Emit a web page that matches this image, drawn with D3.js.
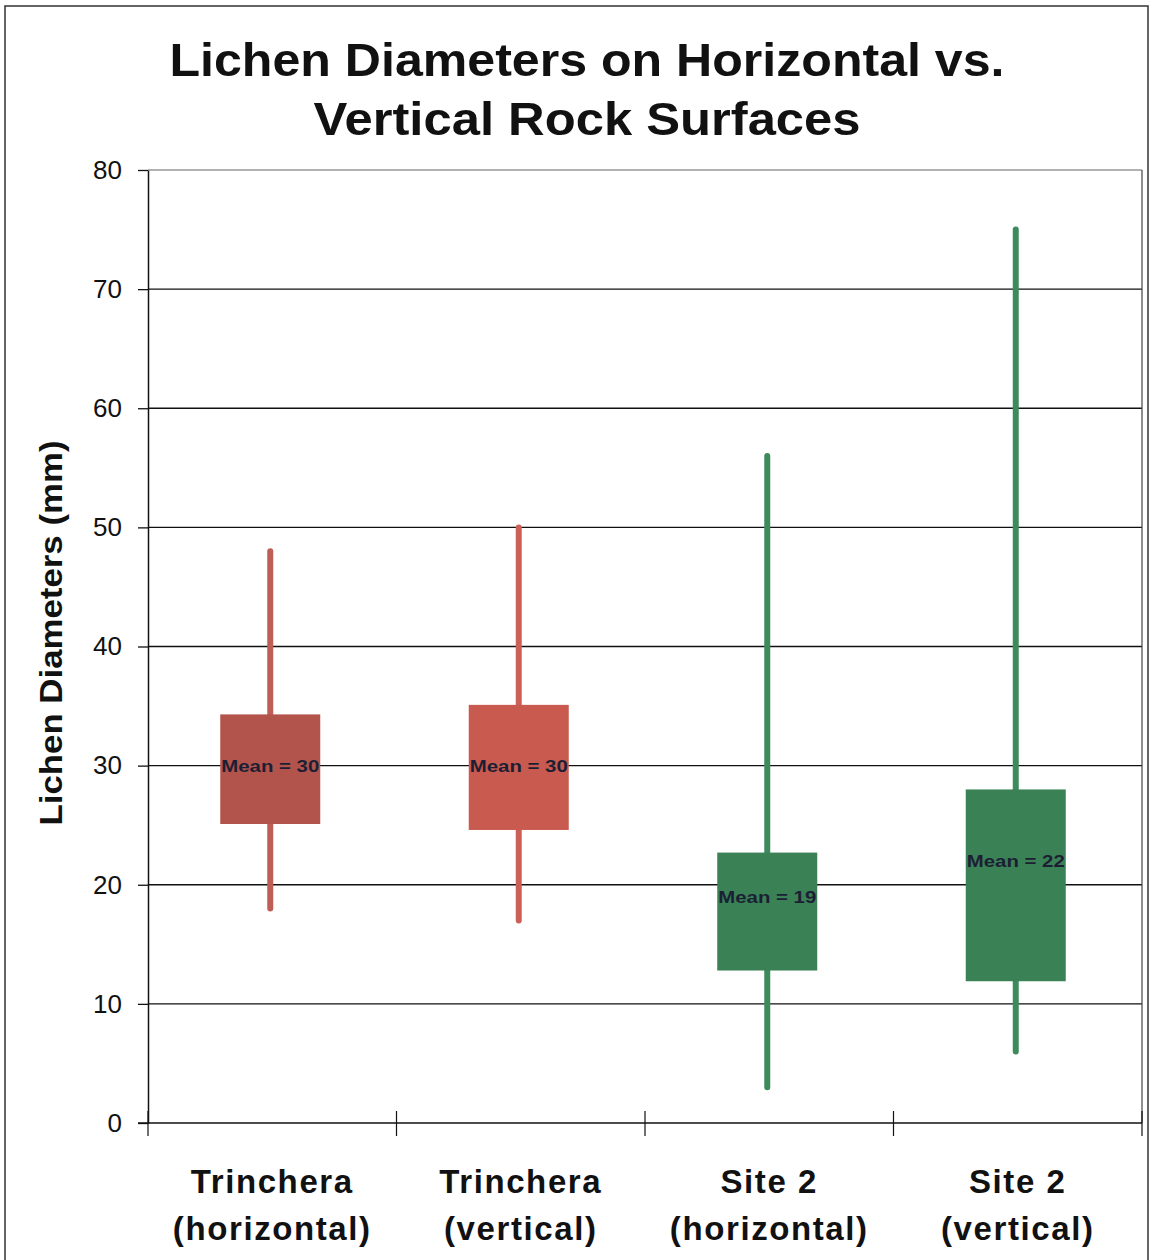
<!DOCTYPE html>
<html>
<head>
<meta charset="utf-8">
<script src="https://cdn.jsdelivr.net/npm/d3@7"></script>
<style>
  body { margin: 0; background: #fff; }
  text { font-family: "Liberation Sans", Arial, sans-serif; }
</style>
</head>
<body>
<div id="chart"></div>
<script>
// data (mm)
const categories = ["Trinchera|(horizontal)", "Trinchera|(vertical)", "Site 2|(horizontal)", "Site 2|(vertical)"];
const whiskerMax = [48, 50, 56, 75];
const whiskerMin = [18, 17, 3, 6];
const boxTop = [34.3, 35.1, 22.7, 28];
const boxBottom = [25.1, 24.6, 12.8, 11.9];
const means = [30, 30, 19, 22];
const boxColors = ["#b3544c", "#c85a4f", "#3a8156", "#3a8156"];
const whiskerColors = ["#bf5e57", "#cc6058", "#3d8a5d", "#3d8a5d"];
const yTicks = [0, 10, 20, 30, 40, 50, 60, 70, 80];

const width = 1154, height = 1260;
const margin = {top: 170, right: 12, bottom: 137, left: 148};

const svg = d3.select("#chart").append("svg")
    .attr("width", width).attr("height", height);

// outer frame of the chart object
svg.append("rect")
    .attr("x", 5).attr("y", 6)
    .attr("width", 1143).attr("height", 1260)
    .style("fill", "none").style("stroke", "#333").style("stroke-width", 1.5);

const x = d3.scaleBand()
    .domain(d3.range(categories.length))
    .range([margin.left, width - margin.right])
    .padding(0);

const y = d3.scaleLinear()
    .domain([0, 80])
    .range([height - margin.bottom, margin.top]);

const g = svg.append("g");

// gridlines
g.selectAll("line.grid").data(yTicks.filter(d => d > 0)).enter().append("line")
    .attr("class", "grid")
    .attr("x1", margin.left).attr("x2", width - margin.right)
    .attr("y1", d => y(d)).attr("y2", d => y(d))
    .style("stroke", d => d === 80 ? "#999" : "#111").style("stroke-width", 1.3);

// right edge of plot area
g.append("line")
    .attr("x1", width - margin.right).attr("x2", width - margin.right)
    .attr("y1", margin.top).attr("y2", y(0))
    .style("stroke", "#444").style("stroke-width", 1.2);

// y axis
const yAxis = g.append("g")
    .attr("transform", `translate(${margin.left},0)`)
    .call(d3.axisLeft(y).tickValues(yTicks).tickSize(10).tickSizeOuter(0).tickPadding(16));
yAxis.select(".domain").style("stroke", "#111").style("stroke-width", 1.5);
yAxis.selectAll(".tick line").style("stroke", "#111").style("stroke-width", 1.3);
yAxis.selectAll(".tick text")
    .style("font-size", "26px").style("fill", "#111");

// x axis, ticks between categories
const xAxis = g.append("g")
    .attr("transform", `translate(0,${y(0)})`);
xAxis.append("line")
    .attr("x1", margin.left - 10).attr("x2", width - margin.right)
    .style("stroke", "#111").style("stroke-width", 1.5);
xAxis.selectAll("line.tk").data(d3.range(categories.length + 1)).enter().append("line")
    .attr("class", "tk")
    .attr("x1", d => margin.left + d * x.bandwidth())
    .attr("x2", d => margin.left + d * x.bandwidth())
    .attr("y1", -12).attr("y2", 13)
    .style("stroke", "#111").style("stroke-width", 1.2);

const cats = xAxis.selectAll("text.cat").data(categories).enter().append("text")
    .attr("class", "cat")
    .attr("x", (d, i) => x(i) + x.bandwidth() / 2)
    .attr("text-anchor", "middle")
    .style("font-size", "33px").style("font-weight", "bold")
    .style("letter-spacing", "1.6px").style("fill", "#111");
cats.append("tspan").attr("x", (d, i) => x(i) + x.bandwidth() / 2).attr("y", 70)
    .text(d => d.split("|")[0]);
cats.append("tspan").attr("x", (d, i) => x(i) + x.bandwidth() / 2).attr("y", 117)
    .text(d => d.split("|")[1]);

// whiskers
const bw = 100;
const cx = i => x(i) + x.bandwidth() / 2 - 2;
g.selectAll("line.whisker").data(categories).enter().append("line")
    .attr("class", "whisker")
    .attr("x1", (d, i) => cx(i)).attr("x2", (d, i) => cx(i))
    .attr("y1", (d, i) => y(whiskerMax[i])).attr("y2", (d, i) => y(whiskerMin[i]))
    .style("stroke", (d, i) => whiskerColors[i]).style("stroke-width", 6)
    .style("stroke-linecap", "round");

// boxes
g.selectAll("rect.box").data(categories).enter().append("rect")
    .attr("class", "box")
    .attr("x", (d, i) => cx(i) - bw / 2)
    .attr("y", (d, i) => y(boxTop[i]))
    .attr("width", bw)
    .attr("height", (d, i) => y(boxBottom[i]) - y(boxTop[i]))
    .style("fill", (d, i) => boxColors[i]);

// mean labels
g.selectAll("text.mean").data(categories).enter().append("text")
    .attr("class", "mean")
    .attr("x", (d, i) => cx(i))
    .attr("y", (d, i) => y(means[i]))
    .attr("dy", "0.35em")
    .attr("text-anchor", "middle")
    .attr("textLength", 98).attr("lengthAdjust", "spacingAndGlyphs")
    .style("font-size", "17px").style("font-weight", "bold").style("fill", "#1c1f33")
    .text((d, i) => "Mean = " + means[i]);

// y axis title
svg.append("text")
    .attr("transform", "translate(62,633) rotate(-90)")
    .attr("text-anchor", "middle")
    .attr("textLength", 385).attr("lengthAdjust", "spacingAndGlyphs")
    .style("font-size", "32px").style("font-weight", "bold").style("fill", "#111")
    .text("Lichen Diameters (mm)");

// title
const title = svg.append("text")
    .attr("text-anchor", "middle")
    .style("font-size", "46px").style("font-weight", "bold").style("fill", "#111");
title.append("tspan").attr("x", 587).attr("y", 76)
    .attr("textLength", 835).attr("lengthAdjust", "spacingAndGlyphs")
    .text("Lichen Diameters on Horizontal vs.");
title.append("tspan").attr("x", 587).attr("y", 135)
    .attr("textLength", 547).attr("lengthAdjust", "spacingAndGlyphs")
    .text("Vertical Rock Surfaces");
</script>
</body>
</html>
